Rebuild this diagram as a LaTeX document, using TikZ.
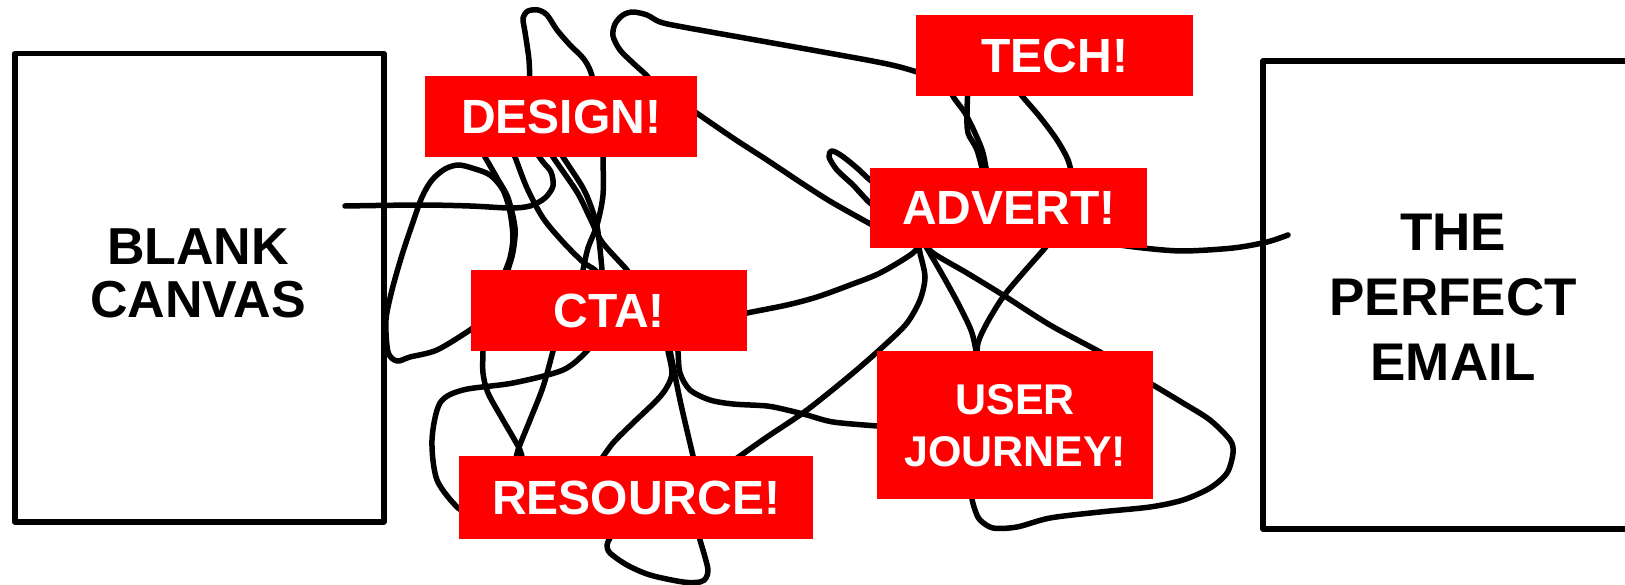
\documentclass[tikz,border=0pt]{standalone}
\usepackage{fontspec}
\setmainfont{Liberation Sans}
\definecolor{vred}{RGB}{255,0,0}
\begin{document}
\begin{tikzpicture}[x=1pt,y=-1pt,
  scrib/.style={line width=5.5pt, line cap=round, line join=round},
  frame/.style={line width=5.5pt, line join=round},
  tag/.style={fill=vred, text=white, inner sep=0pt, anchor=north west, align=center,
    font=\fontsize{48}{52}\selectfont\bfseries},
  bigtext/.style={text=black, inner sep=0pt, align=center}]
\useasboundingbox (0,0) rectangle (1625,585);
\fill[white] (0,0) rectangle (1625,585);

% frames
\node[frame, draw, anchor=north west, minimum width=369pt, minimum height=468pt, inner sep=0pt] (canvasbox) at (12,51) {};
\node[bigtext, font=\fontsize{52}{53}\selectfont\bfseries] (canvastext) at (198,273.5) {BLANK\\CANVAS};
\coordinate (rtop) at (1640,61);
\coordinate (rtl) at (1263,61);
\coordinate (rbl) at (1263,529);
\coordinate (rbot) at (1640,529);
\draw[frame] (rtop) -- (rtl) -- (rbl) -- (rbot);
\node[bigtext, font=\fontsize{53}{65}\selectfont\bfseries] (emailtext) at (1453,297.5) {THE\\PERFECT\\EMAIL};

% scribble
\draw[scrib] plot[smooth, tension=0.5] coordinates {(345,206) (420,205) (470,206) (510,208) (530,206) (545,198) (553,186) (551,172) (543,162) (533,148)};
\draw[scrib] plot[smooth, tension=0.5] coordinates {(530,90) (529,60) (525,32) (523,18) (528,11) (538,10) (547,15) (557,30) (570,45) (583,58) (590,70) (596,90)};
\draw[scrib] plot[smooth, tension=0.5] coordinates {(658,92) (648,77) (633,63) (620,50) (613,36) (615,24) (623,15) (633,12) (647,15) (660,22) (683,27) (767,42) (867,60) (900,67) (930,76)};
\draw[scrib] plot[smooth, tension=0.5] coordinates {(685,105) (733,138) (767,160) (800,182) (833,203) (885,232)};
\draw[scrib] plot[smooth, tension=0.5] coordinates {(885,212) (870,203) (853,185) (837,170) (829,157) (832,151) (842,156) (857,168) (870,180) (885,190)};
\draw[scrib] plot[smooth, tension=0.5] coordinates {(948,86) (954,98) (965,113) (975,133) (983,153) (988,180)};
\draw[scrib] plot[smooth, tension=0.5] coordinates {(968,86) (967,113) (968,133) (977,150) (985,180)};
\draw[scrib] plot[smooth, tension=0.5] coordinates {(1015,86) (1022,96) (1040,117) (1057,140) (1068,160) (1073,180)};
\draw[scrib] plot[smooth, tension=0.5] coordinates {(1105,243) (1143,248) (1183,251) (1233,248) (1267,242) (1288,235)};
\draw[scrib] plot[smooth, tension=0.5] coordinates {(735,316) (747,313) (787,305) (817,297) (850,285) (880,273) (913,253) (922,240)};
\draw[scrib] plot[smooth, tension=0.5] coordinates {(918,240) (920,253) (925,277) (920,300) (907,323) (887,343) (853,373) (807,410) (767,437) (740,456) (725,467)};
\draw[scrib] plot[smooth, tension=0.5] coordinates {(922,240) (935,262) (947,283) (960,307) (972,333) (978,362)};
\draw[scrib] plot[smooth, tension=0.5] coordinates {(922,240) (933,253) (967,273) (1003,295) (1050,325) (1100,352) (1115,362)};
\draw[scrib] plot[smooth, tension=0.5] coordinates {(1140,378) (1153,385) (1183,403) (1210,420) (1230,440) (1233,453) (1227,473) (1210,488) (1183,500) (1150,507) (1100,512) (1050,518) (1017,527) (993,528) (980,520) (975,510) (972,499) (971,488)};
\draw[scrib] plot[smooth, tension=0.5] coordinates {(1052,238) (1045,248) (1023,273) (1003,297) (987,323) (978,343) (977,362)};
\draw[scrib] plot[smooth, tension=0.5] coordinates {(676,340) (678,352) (680,373) (690,390) (710,400) (733,404) (767,406) (787,410) (807,415) (833,422) (877,426) (890,427)};
\draw[scrib] plot[smooth, tension=0.5] coordinates {(666,340) (668,351) (672,373) (667,387) (657,400) (633,423) (613,443) (598,464)};
\draw[scrib] plot[smooth, tension=0.5] coordinates {(668,340) (680,400) (693,456) (695,466)};
\draw[scrib] plot[smooth, tension=0.5] coordinates {(698,530) (700,540) (705,557) (708,570) (706,578) (700,582) (683,582) (650,575) (627,565) (610,553) (607,545) (610,538) (614,530)};
\draw[scrib] plot[smooth, tension=0.5] coordinates {(482,320) (470,330) (437,350) (410,357) (397,361) (388,352) (386,320) (392,290) (402,255) (412,225) (422,197) (432,180) (445,169) (458,165) (472,168) (490,175) (503,190) (510,212) (513,238) (510,258) (505,272) (503,282)};
\draw[scrib] plot[smooth, tension=0.5] coordinates {(480,148) (485,157) (497,178) (508,198) (515,228) (513,252) (508,270) (506,282)};
\draw[scrib] plot[smooth, tension=0.5] coordinates {(511,148) (515,157) (527,188) (543,218) (563,242) (583,262) (595,270) (603,280)};
\draw[scrib] plot[smooth, tension=0.5] coordinates {(549,148) (553,157) (577,192) (590,218) (602,242) (627,270) (633,280)};
\draw[scrib] plot[smooth, tension=0.5] coordinates {(558,148) (563,157) (583,188) (593,212) (598,232) (602,270) (602,282)};
\draw[scrib] plot[smooth, tension=0.5] coordinates {(603,148) (603,157) (603,195) (597,225) (588,248) (583,270) (580,282)};
\draw[scrib] plot[smooth, tension=0.5] coordinates {(483,342) (483,351) (483,373) (488,393) (503,420) (520,450) (523,465)};
\draw[scrib] plot[smooth, tension=0.5] coordinates {(555,342) (553,351) (543,387) (530,420) (518,450) (515,465)};
\draw[scrib] plot[smooth, tension=0.5] coordinates {(592,342) (587,351) (563,370) (513,383) (463,390) (440,403) (432,440) (437,480) (458,508) (470,512)};

% labels
\node[tag, minimum width=272pt, minimum height=81pt] (design) at (425,76) {DESIGN!};
\node[tag, minimum width=277pt, minimum height=81pt] (tech) at (916,15) {TECH!};
\node[tag, minimum width=277pt, minimum height=80pt] (advert) at (870,168) {ADVERT!};
\node[tag, minimum width=276pt, minimum height=81pt] (cta) at (471,270) {CTA!};
\node[tag, minimum width=354pt, minimum height=83pt] (resource) at (459,456) {RESOURCE!};
\node[tag, minimum width=276pt, minimum height=148pt, font=\fontsize{43}{52}\selectfont\bfseries] (user) at (877,351) {USER\\JOURNEY!};
\end{tikzpicture}
\end{document}
